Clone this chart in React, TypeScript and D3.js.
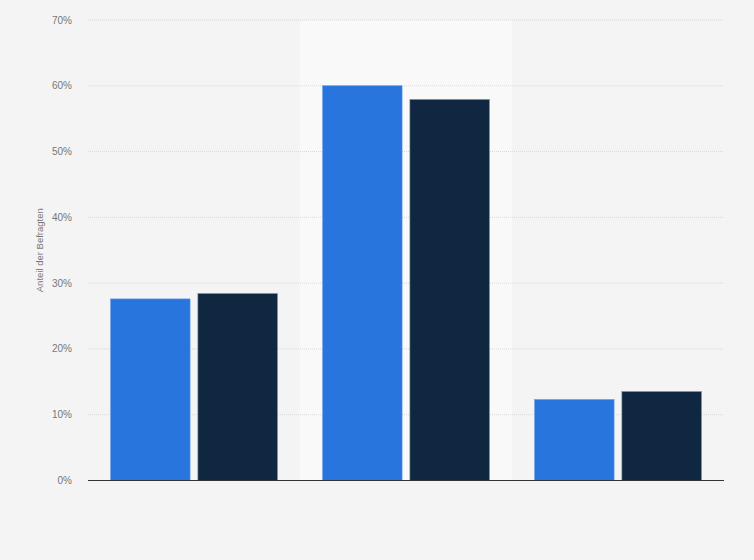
import React, { useEffect, useRef } from 'react'
import * as d3 from 'd3'

// three answer groups (no labels shown in the picture), two series each
const categories = ['A', 'B', 'C']
const series1 = [27.6, 60.0, 12.3]
const series2 = [28.4, 57.9, 13.5]
const yTicks = [0, 10, 20, 30, 40, 50, 60, 70]
const highlighted = 'B'

const WIDTH = 754
const HEIGHT = 560
const margin = { top: 20, right: 30, bottom: 79.5, left: 88 }

const App: React.FC = () => {
    const svgRef = useRef<SVGSVGElement | null>(null)

    useEffect(() => {
        const svg = d3.select(svgRef.current)
        svg.selectAll('*').remove()

        const x0 = d3
            .scaleBand()
            .domain(categories)
            .range([margin.left, WIDTH - margin.right])

        const x1 = d3
            .scaleBand()
            .domain(['s1', 's2'])
            .range([0, x0.bandwidth()])
            .paddingInner(0.09)
            .paddingOuter(0.26)

        const y = d3
            .scaleLinear()
            .domain([0, 70])
            .range([HEIGHT - margin.bottom, margin.top])

        svg.append('rect').attr('width', WIDTH).attr('height', HEIGHT).attr('fill', '#f4f4f4')

        // highlighted column background
        svg.append('rect')
            .attr('x', x0(highlighted)!)
            .attr('y', margin.top)
            .attr('width', x0.bandwidth())
            .attr('height', y(0) - margin.top)
            .attr('fill', '#f9f9f9')

        // grid lines
        svg.append('g')
            .selectAll('line')
            .data(yTicks.filter((t) => t > 0))
            .join('line')
            .attr('x1', margin.left)
            .attr('x2', WIDTH - margin.right)
            .attr('y1', (d) => y(d))
            .attr('y2', (d) => y(d))
            .attr('stroke', '#d8d8d8')
            .attr('stroke-width', 1)
            .attr('stroke-dasharray', '1,1')

        // tick labels
        svg.append('g')
            .selectAll('text')
            .data(yTicks)
            .join('text')
            .attr('x', 72)
            .attr('y', (d) => y(d))
            .attr('dy', '0.35em')
            .attr('text-anchor', 'end')
            .attr('font-family', '"Liberation Sans", Arial, sans-serif')
            .attr('font-size', 10)
            .attr('fill', '#777')
            .text((d) => `${d}%`)

        const rows = categories.map((c, i) => ({ c, s1: series1[i], s2: series2[i] }))
        const colors: Record<string, string> = { s1: '#2876dd', s2: '#0f2740' }

        const groups = svg
            .append('g')
            .selectAll('g')
            .data(rows)
            .join('g')
            .attr('transform', (d) => `translate(${x0(d.c)},0)`)

        groups
            .selectAll('rect')
            .data((d) => [
                { key: 's1', v: d.s1 },
                { key: 's2', v: d.s2 }
            ])
            .join('rect')
            .attr('x', (d) => x1(d.key)!)
            .attr('y', (d) => y(d.v))
            .attr('width', x1.bandwidth())
            .attr('height', (d) => y(0) - y(d.v))
            .attr('fill', (d) => colors[d.key])
            .attr('stroke', (d) => (d.key === 's1' ? '#5a96e6' : '#6b7d90'))
            .attr('stroke-width', 0.6)

        // baseline
        svg.append('line')
            .attr('x1', margin.left)
            .attr('x2', WIDTH - margin.right)
            .attr('y1', y(0))
            .attr('y2', y(0))
            .attr('stroke', '#333')
            .attr('stroke-width', 1)

        // y axis title
        svg.append('text')
            .attr('transform', `translate(43, ${(margin.top + y(0)) / 2}) rotate(-90)`)
            .attr('text-anchor', 'middle')
            .attr('font-family', '"Liberation Sans", Arial, sans-serif')
            .attr('font-size', 9.5)
            .attr('fill', '#777')
            .text('Anteil der Befragten')
    }, [])

    return (
        <svg
            ref={svgRef}
            width={WIDTH}
            height={HEIGHT}
            style={{ position: 'absolute', left: 0, top: 0, display: 'block' }}
        />
    )
}

export default App
